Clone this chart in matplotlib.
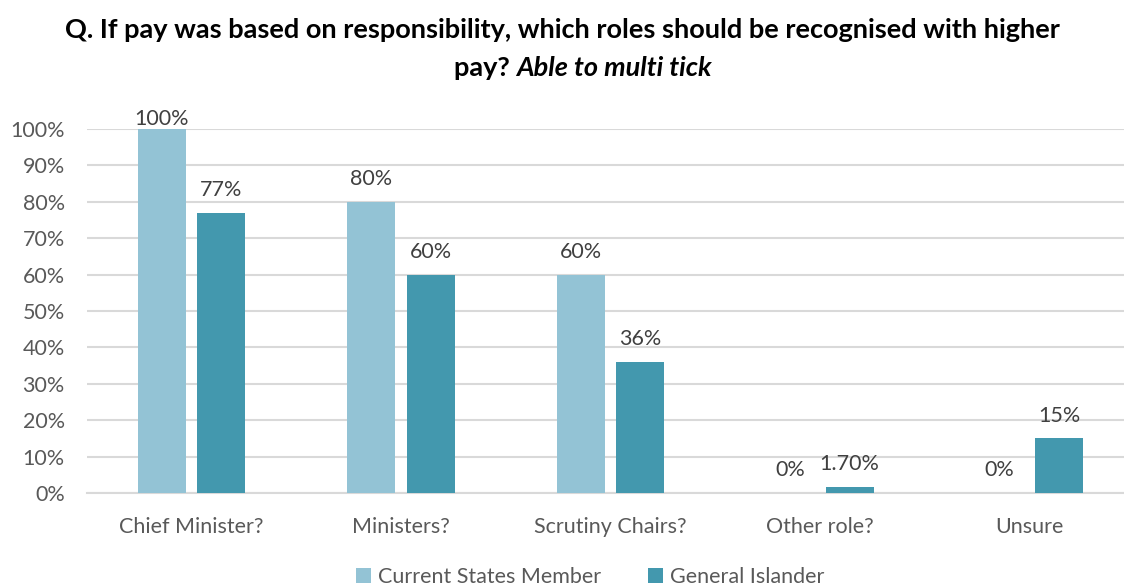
import numpy as np
import matplotlib.pyplot as plt

plt.rcParams['font.family'] = ['Lato', 'DejaVu Sans']

categories = ['Chief Minister?', 'Ministers?', 'Scrutiny Chairs?', 'Other role?', 'Unsure']
states_member = [1.00, 0.80, 0.60, 0.0, 0.0]
islander = [0.77, 0.60, 0.36, 0.017, 0.15]
states_labels = ['100%', '80%', '60%', '0%', '0%']
islander_labels = ['77%', '60%', '36%', '1.70%', '15%']

light = '#93C3D5'
dark = '#4398AE'
grey = '#595959'
fs = 15.5

fig = plt.figure(figsize=(11.24, 5.85), dpi=100)
ax = fig.add_axes([87 / 1124, 1 - 493 / 585, 1 - 87 / 1124, (493 - 129) / 585])

x = np.arange(len(categories))
w = 0.229
off = 0.142
b1 = ax.bar(x - off, states_member, w, color=light, label='Current States Member', zorder=3)
b2 = ax.bar(x + off, islander, w, color=dark, label='General Islander', zorder=3)

for bars, labels in ((b1, states_labels), (b2, islander_labels)):
    for rect, lab in zip(bars, labels):
        h = rect.get_height()
        dy = 0 if h >= 1.0 else 9
        ax.annotate(lab, (rect.get_x() + rect.get_width() / 2, h), xytext=(0, dy),
                    textcoords='offset points', ha='center', va='bottom',
                    fontsize=fs, color='#404040', clip_on=False)

ax.set_xlim(-0.5, 4.5 - 10 / 210)
ax.set_ylim(0, 1.0)
ax.set_yticks(np.arange(0, 1.01, 0.1))
ax.set_yticklabels([f'{int(round(v * 100))}%' for v in np.arange(0, 1.01, 0.1)])
ax.set_xticks(x)
ax.set_xticklabels(categories)
ax.tick_params(axis='y', length=0, pad=16, labelsize=fs, labelcolor=grey)
ax.tick_params(axis='x', length=0, pad=17, labelsize=fs, labelcolor=grey)
ax.yaxis.grid(True, color='#D9D9D9', linewidth=1.5, zorder=0)
ax.set_axisbelow(True)
for s in ['top', 'right', 'left']:
    ax.spines[s].set_visible(False)
ax.spines['bottom'].set_color('#D9D9D9')
ax.spines['bottom'].set_linewidth(1.5)

fig.legend(loc='center', bbox_to_anchor=(590 / 1124, 1 - 577 / 585), ncol=2, frameon=False,
           fontsize=fs, labelcolor=grey, handlelength=0.7, handleheight=0.7,
           handletextpad=0.3, columnspacing=2.2)

fig.text(562 / 1124, 1 - 30 / 585, 'Q. If pay was based on responsibility, which roles should be recognised with higher',
         ha='center', va='center', fontsize=19.5, fontweight='bold', color='black')

# second title line: bold part + bold italic part, centred together
fig.canvas.draw()
r = fig.canvas.get_renderer()
y2 = 1 - 68 / 585
t1 = fig.text(0, y2, 'pay? ', ha='left', va='center', fontsize=19.5, fontweight='bold')
t2 = fig.text(0, y2, 'Able to multi tick', ha='left', va='center', fontsize=19.5,
              fontweight='bold', style='italic')
w1 = t1.get_window_extent(r).width / fig.bbox.width
w2 = t2.get_window_extent(r).width / fig.bbox.width
x0 = 583 / 1124 - (w1 + w2) / 2
t1.set_x(x0)
t2.set_x(x0 + w1)

fig.savefig('out.png', dpi=100)
